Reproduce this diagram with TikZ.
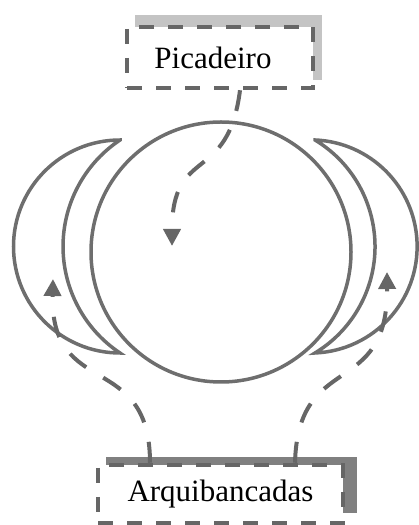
\documentclass[tikz,border=0pt]{standalone}
\usepackage{fontspec}
\setmainfont{Liberation Serif}
\usetikzlibrary{arrows.meta}
\definecolor{ringgray}{HTML}{6E6E6E}
\definecolor{dashgray}{HTML}{666666}
\definecolor{softshade}{HTML}{C4C4C4}
\definecolor{hardshade}{HTML}{808080}

\begin{document}
\begin{tikzpicture}[x=1pt,y=1pt,font=\fontsize{31}{36}\selectfont,
  ring/.style={draw=ringgray,line width=3.5pt,line join=miter,miter limit=25},
  place/.style={draw=dashgray,fill=white,line width=4.5pt,dash pattern=on 15pt off 14pt,inner sep=0pt},
  flow/.style={draw=dashgray,line width=4pt,dash pattern=on 21pt off 20pt,-{Triangle[width=17pt,length=17pt]}}]
\useasboundingbox (0,0) rectangle (419,525);
\draw[ring] (221,273) circle[radius=130];
\draw[ring] (120,385) arc[start angle=90,end angle=270,radius=106.5]
  arc[start angle=236.3,end angle=123.7,radius=128] -- cycle;
\draw[ring] (315,385) arc[start angle=58.8,end angle=-58.8,radius=124.5]
  arc[start angle=-87.6,end angle=87.6,radius=106.6] -- cycle;
\fill[softshade] (135,445) rectangle (322,510);
\node[place,minimum width=186pt,minimum height=61pt] (pica) at (220,467.5) {\hspace*{-14pt}Picadeiro};
\fill[hardshade] (106,12) rectangle (357,68);
\node[place,minimum width=245pt,minimum height=58pt] (arqui) at (220.5,31) {Arquibancadas};
\coordinate (ringin) at (172,279);
\coordinate (leftin) at (53,246);
\coordinate (rightin) at (387,253);
\draw[flow] ([xshift=20pt]pica.south) .. controls (228,340) and (172,380) .. (ringin);
\draw[flow] ([xshift=-70.5pt]arqui.north) .. controls (150,175) and (50,125) .. (leftin);
\draw[flow] ([xshift=74.5pt]arqui.north) .. controls (298,175) and (388,125) .. (rightin);
\end{tikzpicture}
\end{document}
